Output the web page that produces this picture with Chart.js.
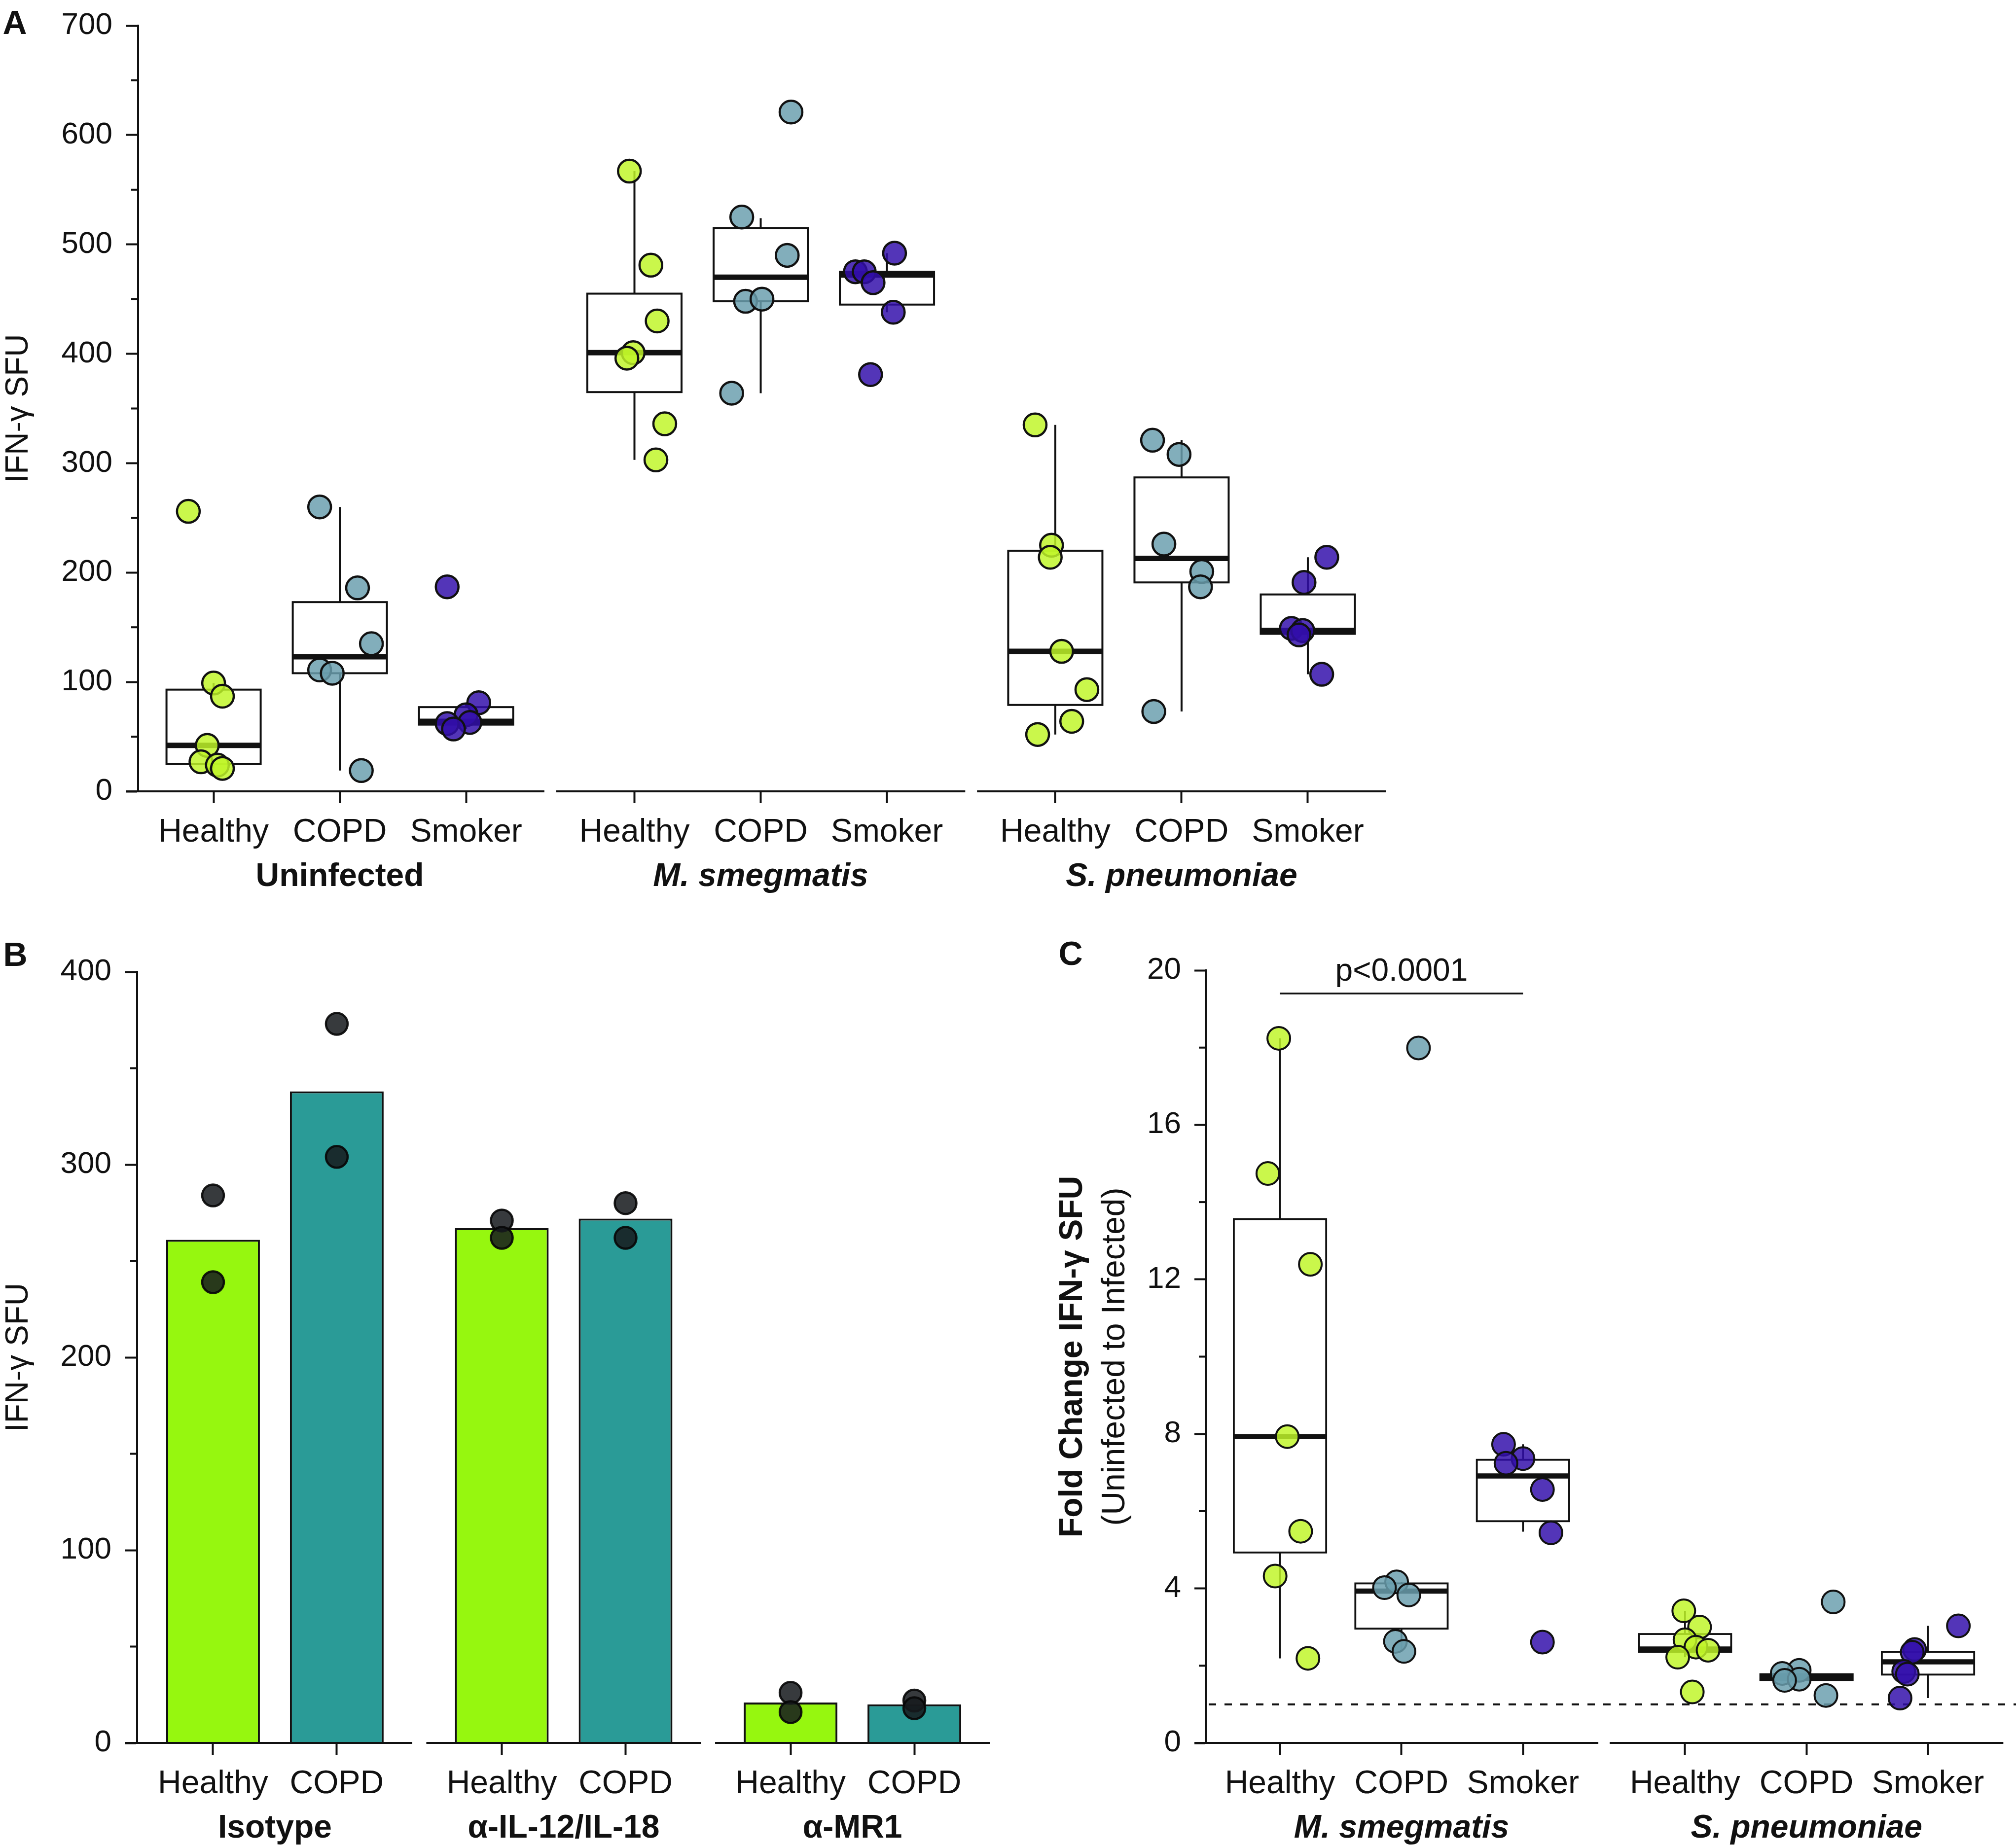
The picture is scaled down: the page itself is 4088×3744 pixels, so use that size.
<!DOCTYPE html>
<html lang="en">
<head>
<meta charset="UTF-8">
<title>IFN-γ SFU – panels A, B, C</title>
<script src="https://cdn.jsdelivr.net/npm/chart.js"></script>
<style>
  html, body { margin: 0; padding: 0; background: #fff; }
  #page { position: relative; width: 4088px; height: 3744px; background: #fff; overflow: hidden; }
  #page canvas { position: absolute; }
</style>
</head>
<body>
<div id="page">
  <canvas id="chartA" width="2900" height="1873" style="left:0;top:-13px;width:2900px;height:1873px"></canvas>
  <canvas id="chartB" width="2100" height="1864" style="left:0;top:1880px;width:2100px;height:1864px"></canvas>
  <canvas id="chartC" width="1988" height="1864" style="left:2100px;top:1880px;width:1988px;height:1864px"></canvas>
</div>
<script>
// ---------- data ----------
const cohorts = ['Healthy', 'COPD', 'Smoker'];

// Panel A: IFN-γ SFU, one inner list per stimulus
const stimuliA = ['Uninfected', 'M. smegmatis', 'S. pneumoniae'];
const aHealthy = [[256, 99, 87, 42, 27, 24, 21], [567, 481, 430, 401, 396, 336, 303], [335, 225, 214, 128, 93, 64, 52]];
const aCOPD = [[260, 186, 135, 111, 108, 19], [621, 525, 490, 448, 450, 364], [321, 308, 226, 201, 187, 73]];
const aSmoker = [[187, 81, 70, 63, 62, 57], [492, 475, 475, 465, 438, 381], [214, 191, 149, 147, 143, 107]];
// box summaries: [low whisker, Q1, median, Q3, high whisker]
const aHealthyBox = [[21, 25, 42, 93, 99], [303, 365, 401, 455, 567], [52, 79, 128, 220, 335]];
const aCOPDBox = [[19, 108, 123, 173, 260], [364, 448, 470, 515, 524], [73, 191, 213, 287, 321]];
const aSmokerBox = [[57, 61, 64, 77, 81], [438, 445, 472, 475, 492], [107, 144, 147, 180, 214]];
// horizontal jitter of each dot (in category widths)
const aHealthyJitter = [[-0.2, 0, 0.07, -0.05, -0.1, 0.03, 0.07], [-0.04, 0.13, 0.18, -0.01, -0.06, 0.24, 0.17], [-0.16, -0.03, -0.04, 0.05, 0.25, 0.13, -0.14]];
const aCOPDJitter = [[-0.16, 0.14, 0.25, -0.16, -0.06, 0.17], [0.24, -0.15, 0.21, -0.12, 0.01, -0.23], [-0.23, -0.02, -0.14, 0.16, 0.15, -0.22]];
const aSmokerJitter = [[-0.15, 0.1, 0.0, 0.03, -0.15, -0.1], [0.06, -0.25, -0.18, -0.11, 0.05, -0.13], [0.15, -0.03, -0.13, -0.04, -0.07, 0.11]];

// Panel B: bar = mean, dots = donors
const cohortsB = ['Healthy', 'COPD'];
const treatmentsB = ['Isotype', 'α-IL-12/IL-18', 'α-MR1'];
const bHealthyBar = [261, 267, 21];
const bCOPDBar = [338, 272, 20];
const bHealthyDots = [[284, 239], [271, 262], [26, 16]];
const bCOPDDots = [[373, 304], [280, 262], [22, 18]];

// Panel C: fold change IFN-γ SFU (uninfected to infected)
const stimuliC = ['M. smegmatis', 'S. pneumoniae'];
const cHealthy = [[18.24, 14.74, 12.39, 7.93, 5.48, 4.32, 2.19], [3.42, 3.0, 2.67, 2.48, 2.4, 2.22, 1.32]];
const cCOPD = [[17.99, 4.17, 4.02, 3.83, 2.63, 2.37], [3.65, 1.88, 1.8, 1.65, 1.62, 1.23]];
const cSmoker = [[7.73, 7.36, 7.24, 6.56, 5.44, 2.61], [3.03, 2.42, 2.35, 1.85, 1.78, 1.16]];
const cHealthyBox = [[2.19, 4.93, 7.93, 13.56, 18.24], [2.22, 2.36, 2.43, 2.82, 3.42]];
const cCOPDBox = [[2.37, 2.96, 3.93, 4.13, 4.17], [1.62, 1.63, 1.7, 1.78, 1.8]];
const cSmokerBox = [[5.47, 5.74, 6.91, 7.33, 7.73], [1.16, 1.77, 2.1, 2.36, 3.03]];
const cHealthyJitter = [[-0.01, -0.1, 0.25, 0.06, 0.17, -0.04, 0.23], [-0.01, 0.12, 0, 0.09, 0.19, -0.06, 0.06]];
const cCOPDJitter = [[0.14, -0.04, -0.14, 0.06, -0.05, 0.02], [0.22, -0.06, -0.2, -0.06, -0.18, 0.16]];
const cSmokerJitter = [[-0.16, 0, -0.14, 0.16, 0.23, 0.16], [0.25, -0.11, -0.13, -0.2, -0.17, -0.23]];
const cNoChange = 1;
const cPValue = 'p<0.0001';
const cPBarAt = 19.4;

// ---------- styling ----------
const FONT = '"Liberation Sans", Arial, Helvetica, sans-serif';
const INK = '#111111';
const dotColors = ['rgba(192,245,40,0.84)', 'rgba(106,158,174,0.84)', 'rgba(50,14,170,0.84)'];
const barColors = ['#96f70f', '#2a9b97'];

function boxesFrom(sets, step) {
  const list = [];
  sets.forEach((perStim, c) => perStim.forEach((stats, g) => list.push({ pos: g * step + c, stats })));
  return list;
}

function dotSets(sets, jitters, step, radius, bw) {
  return sets.map((perStim, c) => ({
    type: 'scatter',
    label: cohorts[c],
    data: perStim.flatMap((vals, g) => vals.map((v, k) => ({ x: g * step + c + jitters[c][g][k], y: v }))),
    pointRadius: radius,
    pointHoverRadius: radius,
    pointBackgroundColor: dotColors[c],
    pointBorderColor: INK,
    pointBorderWidth: bw,
    clip: false
  }));
}

function positions(nGroups, size, step) {
  const out = [];
  for (let g = 0; g < nGroups; g++) for (let c = 0; c < size; c++) out.push(g * step + c);
  return out;
}

function yScale(max, step, tickLen, width, title) {
  return {
    type: 'linear', min: 0, max: max,
    ticks: { stepSize: step, color: INK, padding: 27, font: { family: FONT, size: 62 } },
    grid: { display: true, drawOnChartArea: false, drawTicks: true, tickLength: tickLen, tickWidth: 4, tickColor: INK },
    border: { display: true, width: 4, color: INK },
    title: title ? { display: true, text: title, color: INK, font: { family: FONT, size: 64 }, padding: 0 } : { display: false },
    afterFit: s => { s.width = width; }
  };
}

function xScale(min, max, ticksAt, names, height) {
  return {
    type: 'linear', min: min, max: max, offset: false,
    afterBuildTicks: s => { s.ticks = ticksAt.map(v => ({ value: v })); },
    ticks: {
      autoSkip: false, maxRotation: 0, minRotation: 0, padding: 20, color: INK,
      font: { family: FONT, size: 66 },
      callback: (v, i) => names[i % names.length]
    },
    grid: { display: true, offset: false, drawOnChartArea: false, drawTicks: true, tickLength: 24, tickWidth: 4, tickColor: INK },
    border: { display: false },
    afterFit: s => { s.height = height; }
  };
}

// boxes, broken x axis, minor ticks, group names, panel letter
function makeDecor(cfg) {
  return {
    id: 'decor' + cfg.letter[0],
    beforeDatasetsDraw(chart) {
      const { ctx, chartArea: area, scales: { x, y } } = chart;
      ctx.save();
      ctx.strokeStyle = INK;
      if (cfg.refLine !== undefined) {
        const py = y.getPixelForValue(cfg.refLine);
        ctx.lineWidth = 4;
        ctx.setLineDash([15, 17]);
        ctx.beginPath(); ctx.moveTo(area.left + 6, py); ctx.lineTo(chart.width, py); ctx.stroke();
        ctx.setLineDash([]);
      }
      (cfg.boxes || []).forEach(b => {
        const [lo, q1, med, q3, hi] = b.stats;
        const cx = x.getPixelForValue(b.pos);
        const l = x.getPixelForValue(b.pos - cfg.boxHalf);
        const r = x.getPixelForValue(b.pos + cfg.boxHalf);
        const yQ1 = y.getPixelForValue(q1), yQ3 = y.getPixelForValue(q3);
        ctx.lineWidth = cfg.whiskerWidth;
        ctx.beginPath(); ctx.moveTo(cx, y.getPixelForValue(lo)); ctx.lineTo(cx, y.getPixelForValue(hi)); ctx.stroke();
        ctx.fillStyle = '#fff';
        ctx.fillRect(l, yQ3, r - l, yQ1 - yQ3);
        ctx.lineWidth = cfg.boxWidth;
        ctx.strokeRect(l, yQ3, r - l, yQ1 - yQ3);
        const ym = y.getPixelForValue(med);
        ctx.lineWidth = cfg.medianWidth;
        ctx.beginPath(); ctx.moveTo(l, ym); ctx.lineTo(r, ym); ctx.stroke();
      });
      ctx.restore();
    },
    afterDraw(chart) {
      const { ctx, chartArea: area, scales: { x, y } } = chart;
      ctx.save();
      ctx.strokeStyle = INK;
      ctx.fillStyle = INK;
      const py0 = y.getPixelForValue(0);
      cfg.groups.forEach((name, g) => {
        const mid = g * cfg.groupStep + (cfg.groupSize - 1) / 2;
        const x1 = g === 0 ? area.left - cfg.tickLen : x.getPixelForValue(mid - cfg.segHalf);
        const x2 = Math.min(x.getPixelForValue(mid + cfg.segHalf), chart.width);
        ctx.lineWidth = 4;
        ctx.beginPath(); ctx.moveTo(x1, py0); ctx.lineTo(x2, py0); ctx.stroke();
        ctx.font = (cfg.italic[g] ? 'italic ' : '') + 'bold 66px ' + FONT;
        ctx.textAlign = 'center';
        ctx.textBaseline = 'alphabetic';
        ctx.fillText(name, x.getPixelForValue(mid), area.bottom + 192);
      });
      // minor ticks on the y axis
      ctx.lineWidth = 4;
      for (let v = cfg.minorStep; v < y.max; v += cfg.majorStep) {
        const py = y.getPixelForValue(v);
        ctx.beginPath(); ctx.moveTo(area.left - 14, py); ctx.lineTo(area.left, py); ctx.stroke();
      }
      // panel letter
      ctx.font = 'bold 68px ' + FONT;
      ctx.textAlign = 'center';
      ctx.textBaseline = 'middle';
      ctx.fillText(cfg.letter[0], cfg.letter[1], cfg.letter[2]);
      // two-font axis title
      if (cfg.titleLines) {
        const cy = (area.top + area.bottom) / 2;
        cfg.titleLines.forEach(t => {
          ctx.save();
          ctx.translate(t.x, cy);
          ctx.rotate(-Math.PI / 2);
          ctx.font = t.font;
          ctx.fillText(t.text, 0, 0);
          ctx.restore();
        });
      }
      // significance bar
      if (cfg.sig) {
        const x1 = x.getPixelForValue(cfg.sig.from), x2 = x.getPixelForValue(cfg.sig.to);
        const py = y.getPixelForValue(cfg.sig.at);
        ctx.lineWidth = 3.5;
        ctx.beginPath(); ctx.moveTo(x1, py); ctx.lineTo(x2, py); ctx.stroke();
        ctx.font = '64px ' + FONT;
        ctx.textBaseline = 'alphabetic';
        ctx.fillText(cfg.sig.text, (x1 + x2) / 2, py - 26);
      }
      ctx.restore();
    }
  };
}

const common = {
  responsive: false,
  devicePixelRatio: 1,
  animation: false,
  events: [],
  plugins: { legend: { display: false }, tooltip: { enabled: false } }
};

// ---------- Panel A ----------
const stepA = 10 / 3;
new Chart(document.getElementById('chartA'), {
  type: 'scatter',
  data: { datasets: dotSets([aHealthy, aCOPD, aSmoker], [aHealthyJitter, aCOPDJitter, aSmokerJitter], stepA, 23, 4.5) },
  options: Object.assign({}, common, {
    layout: { padding: { top: 65, right: 91, bottom: 0, left: 0 } },
    scales: {
      x: xScale(-0.598, 9.28, positions(3, 3, stepA), cohorts, 255),
      y: yScale(700, 100, 25, 280, 'IFN-γ SFU')
    }
  }),
  plugins: [makeDecor({
    letter: ['A', 30, 63],
    groups: stimuliA, italic: [false, true, true], groupStep: stepA, groupSize: 3,
    segHalf: 1.62, tickLen: 25, minorStep: 50, majorStep: 100,
    boxes: boxesFrom([aHealthyBox, aCOPDBox, aSmokerBox], stepA),
    boxHalf: 0.373, boxWidth: 4, medianWidth: 11, whiskerWidth: 4
  })]
});

// ---------- Panel B ----------
const stepB = 7 / 3;
const dotsB = [];
[bHealthyDots, bCOPDDots].forEach((set, c) => set.forEach((vals, g) => vals.forEach(v => dotsB.push({ x: g * stepB + c, y: v }))));
new Chart(document.getElementById('chartB'), {
  type: 'bar',
  data: {
    datasets: [
      { label: 'Donors', type: 'scatter', data: dotsB, order: 0, clip: false,
        pointRadius: 22, pointHoverRadius: 22, pointBackgroundColor: 'rgba(22,26,29,0.86)',
        pointBorderColor: 'rgba(8,8,8,0.92)', pointBorderWidth: 4.5 },
      { label: cohortsB[0], data: bHealthyBar.map((v, g) => ({ x: g * stepB, y: v })), order: 1,
        backgroundColor: barColors[0], borderColor: INK, borderWidth: 4, grouped: false, barPercentage: 0.757, categoryPercentage: 1 },
      { label: cohortsB[1], data: bCOPDBar.map((v, g) => ({ x: g * stepB + 1, y: v })), order: 1,
        backgroundColor: barColors[1], borderColor: INK, borderWidth: 4, grouped: false, barPercentage: 0.757, categoryPercentage: 1 }
    ]
  },
  options: Object.assign({}, common, {
    layout: { padding: { top: 91, right: 92, bottom: 0, left: 0 } },
    scales: {
      x: xScale(-0.6135, 6.28, positions(3, 2, stepB), cohortsB, 209),
      y: yScale(400, 100, 25, 278, 'IFN-γ SFU')
    }
  }),
  plugins: [makeDecor({
    letter: ['B', 31, 60],
    groups: treatmentsB, italic: [false, false, false], groupStep: stepB, groupSize: 2,
    segHalf: 1.11, tickLen: 25, minorStep: 50, majorStep: 100
  })]
});

// ---------- Panel C ----------
const stepC = 10 / 3;
new Chart(document.getElementById('chartC'), {
  type: 'scatter',
  data: { datasets: dotSets([cHealthy, cCOPD, cSmoker], [cHealthyJitter, cCOPDJitter, cSmokerJitter], stepC, 23, 4) },
  options: Object.assign({}, common, {
    layout: { padding: { top: 88, right: 0, bottom: 0, left: 0 } },
    scales: {
      x: xScale(-0.611, 5.948, positions(2, 3, stepC), cohorts, 209),
      y: yScale(20, 4, 23, 345, null)
    }
  }),
  plugins: [makeDecor({
    letter: ['C', 71, 58],
    groups: stimuliC, italic: [true, true], groupStep: stepC, groupSize: 3,
    segHalf: 1.62, tickLen: 23, minorStep: 2, majorStep: 4,
    boxes: boxesFrom([cHealthyBox, cCOPDBox, cSmokerBox], stepC),
    boxHalf: 0.38, boxWidth: 3.8, medianWidth: 10.5, whiskerWidth: 3.6,
    refLine: cNoChange,
    sig: { from: 0, to: 2, at: cPBarAt, text: cPValue },
    titleLines: [
      { text: 'Fold Change IFN-γ SFU', x: 76, font: 'bold 66px ' + FONT },
      { text: '(Uninfected to Infected)', x: 162, font: '66px ' + FONT }
    ]
  })]
});
</script>
</body>
</html>
